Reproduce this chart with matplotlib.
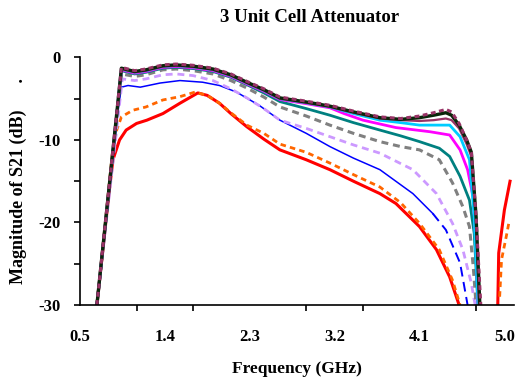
import numpy as np
import matplotlib
matplotlib.use("Agg")
import matplotlib.pyplot as plt

plt.rcParams['font.family'] = 'Liberation Serif'
plt.rcParams['font.weight'] = 'bold'
plt.rcParams['lines.scale_dashes'] = False

# frequencia (GHz) y |S21| (dB)
f_black = [0.68, 0.94, 1.08, 1.2, 1.38, 1.52, 1.7, 1.91, 2.1, 2.27, 2.45, 2.62, 2.9, 3.15, 3.4, 3.68, 3.9, 4.1, 4.25, 4.38, 4.44, 4.52, 4.6, 4.65, 4.7, 4.74]
s_black = [-30, -1.3, -1.7, -1.5, -1.0, -0.9, -1.05, -1.4, -2.1, -3.0, -3.9, -4.9, -5.4, -5.9, -6.6, -7.3, -7.5, -7.3, -7.0, -6.7, -7.0, -8.2, -10, -11.5, -19.3, -30]

f_purple = [0.68, 0.94, 1.08, 1.2, 1.38, 1.52, 1.7, 1.91, 2.1, 2.27, 2.45, 2.62, 2.9, 3.15, 3.4, 3.68, 3.9, 4.1, 4.25, 4.38, 4.44, 4.52, 4.6, 4.65, 4.7, 4.75]
s_purple = [-30, -1.2, -1.6, -1.4, -0.9, -0.8, -0.95, -1.3, -2.0, -2.9, -3.8, -4.8, -5.3, -5.8, -6.5, -7.2, -7.4, -7.1, -6.7, -6.3, -6.6, -8.0, -10, -11.5, -19.3, -30]

f_maroon = [0.68, 0.94, 1.08, 1.2, 1.38, 1.52, 1.7, 1.91, 2.1, 2.27, 2.45, 2.62, 2.9, 3.15, 3.4, 3.68, 3.9, 4.1, 4.25, 4.38, 4.44, 4.52, 4.6, 4.65, 4.7, 4.73]
s_maroon = [-30, -1.4, -1.8, -1.6, -1.1, -1.0, -1.15, -1.5, -2.2, -3.1, -4.0, -5.0, -5.5, -6.0, -6.7, -7.4, -7.6, -7.7, -7.6, -7.4, -7.6, -8.6, -10.5, -12, -19.5, -30]

f_cyan = [0.68, 0.94, 1.08, 1.2, 1.38, 1.52, 1.7, 1.91, 2.1, 2.27, 2.45, 2.62, 2.9, 3.15, 3.4, 3.68, 3.9, 4.1, 4.25, 4.42, 4.53, 4.63, 4.68, 4.72]
s_cyan = [-30, -1.4, -1.8, -1.6, -1.1, -1.0, -1.15, -1.5, -2.2, -3.1, -4.0, -5.0, -5.5, -6.0, -6.8, -7.6, -7.9, -8.2, -8.2, -8.2, -9.6, -12.4, -19.3, -30]

f_magenta = [0.68, 0.94, 1.08, 1.2, 1.38, 1.52, 1.7, 1.91, 2.1, 2.27, 2.45, 2.62, 2.9, 3.15, 3.3, 3.5, 3.85, 4.21, 4.42, 4.53, 4.61, 4.67, 4.7, 4.72]
s_magenta = [-30, -1.5, -1.9, -1.7, -1.2, -1.1, -1.25, -1.6, -2.3, -3.2, -4.1, -5.1, -5.6, -6.1, -6.8, -7.6, -8.5, -9.0, -9.4, -11.2, -13.6, -17, -23, -30]

f_teal = [0.68, 0.94, 1.08, 1.2, 1.38, 1.52, 1.7, 1.91, 2.1, 2.27, 2.45, 2.62, 2.9, 3.15, 3.4, 3.68, 3.9, 4.1, 4.31, 4.42, 4.53, 4.63, 4.68, 4.72]
s_teal = [-30, -1.6, -2.0, -1.8, -1.3, -1.2, -1.35, -1.7, -2.4, -3.3, -4.3, -5.35, -6.2, -7.0, -7.9, -8.8, -9.5, -10.2, -11.0, -12.0, -14.4, -17.3, -21.3, -30]

f_gray = [0.68, 0.94, 1.08, 1.2, 1.38, 1.52, 1.7, 1.91, 2.1, 2.27, 2.45, 2.62, 2.9, 3.15, 3.4, 3.68, 3.9, 4.1, 4.31, 4.45, 4.56, 4.63, 4.67, 4.7]
s_gray = [-30, -2.0, -2.3, -2.1, -1.5, -1.4, -1.6, -2.0, -2.8, -3.7, -4.8, -6.0, -7.1, -8.2, -9.2, -10.2, -10.8, -11.2, -12.4, -15.2, -18.1, -20.5, -25.4, -30]

f_lav = [0.68, 0.95, 1.08, 1.2, 1.38, 1.52, 1.7, 1.91, 2.1, 2.27, 2.45, 2.62, 2.9, 3.15, 3.4, 3.68, 4.03, 4.28, 4.45, 4.56, 4.65, 4.69]
s_lav = [-30, -2.6, -2.8, -2.6, -2.1, -2.0, -2.2, -2.8, -3.8, -4.9, -6.2, -7.6, -8.6, -9.6, -10.6, -11.6, -13.6, -16.5, -20.1, -23.3, -27.4, -30]

f_blue = [0.68, 0.91, 0.94, 1.01, 1.14, 1.35, 1.56, 1.8, 1.98, 2.16, 2.4, 2.62, 2.9, 3.15, 3.4, 3.68, 4.03, 4.24]
s_blue = [-30, -6, -3.6, -3.4, -3.6, -3.1, -2.8, -3.0, -3.4, -4.2, -5.8, -7.6, -9.2, -10.8, -12.2, -13.6, -16.5, -18.9]
f_blue_tail = [4.24, 4.38, 4.53, 4.61]
s_blue_tail = [-18.9, -20.9, -24.9, -30]

f_orange = [0.68, 0.84, 0.89, 0.94, 1.06, 1.2, 1.38, 1.56, 1.72, 1.85, 1.98, 2.1, 2.27, 2.45, 2.62, 2.9, 3.15, 3.4, 3.68, 3.9, 4.1, 4.31, 4.45, 4.53]
s_orange = [-30, -12, -8.8, -7.2, -6.4, -6.0, -5.15, -4.75, -4.2, -4.6, -5.55, -6.7, -8.2, -9.2, -10.5, -11.5, -12.8, -14.2, -15.7, -17.6, -20.1, -23.3, -27, -30]
f_orange2 = [4.95, 4.97, 5.02, 5.05]
s_orange2 = [-29, -24.5, -21.7, -19.9]

f_red = [0.68, 0.8, 0.85, 0.92, 0.99, 1.1, 1.21, 1.38, 1.56, 1.75, 1.85, 1.98, 2.1, 2.27, 2.45, 2.62, 2.9, 3.15, 3.4, 3.68, 3.85, 4.1, 4.28, 4.42, 4.52]
s_red = [-30, -17.3, -12.4, -10, -8.8, -8.0, -7.6, -6.8, -5.55, -4.3, -4.6, -5.55, -6.8, -8.4, -9.9, -11.2, -12.4, -13.6, -15.0, -16.5, -17.7, -20.5, -23.3, -26.6, -30]
f_red2 = [4.93, 4.94, 5.0, 5.06]
s_red2 = [-30, -23.7, -18.5, -15.0]

xticklabels = ['0.5', '1.4', '2.3', '3.2', '4.1', '5.0']

fig = plt.figure(figsize=(5.19, 3.82), dpi=100)
ax = fig.add_axes([0.154, 0.2016, 0.836, 0.648])

ax.plot(f_red, s_red, color='#FF0000', lw=2.2)
ax.plot(f_red2, s_red2, color='#FF0000', lw=2.2)
ax.plot(f_orange, s_orange, color='#FF6600', lw=2.0, dashes=(4, 3))
ax.plot(f_orange2, s_orange2, color='#FF6600', lw=2.0, dashes=(4, 3))
ax.plot(f_blue, s_blue, color='#0000FF', lw=1.1)
ax.plot(f_blue_tail, s_blue_tail, color='#0000FF', lw=1.4, dashes=(7, 4))
ax.plot(f_lav, s_lav, color='#CC99FF', lw=2.0, dashes=(5, 3.5))
ax.plot(f_gray, s_gray, color='#808080', lw=2.2, dashes=(5, 3.5))
ax.plot(f_teal, s_teal, color='#008080', lw=2.0)
ax.plot(f_magenta, s_magenta, color='#FF00FF', lw=2.0)
ax.plot(f_cyan, s_cyan, color='#00CCFF', lw=2.0)
ax.plot(f_maroon, s_maroon, color='#993366', lw=1.6)
ax.plot(f_black, s_black, color='#0A260A', lw=2.4)
ax.plot(f_purple, s_purple, color='#993366', lw=2.2, dashes=(3.5, 2.5))

ax.set_xlim(0.5, 5.1)
ax.set_ylim(-30, 0)
ax.spines['top'].set_visible(False)
ax.spines['right'].set_visible(False)
ax.spines['left'].set_linewidth(1.2)
ax.spines['bottom'].set_linewidth(1.2)

ax.set_xticks([0.5 + 0.9 * i for i in range(6)])
ax.set_xticklabels(xticklabels, fontsize=12, fontweight='bold')
ax.set_xticks([0.5 + 0.6 * i for i in range(8)], minor=True)
ax.tick_params(axis='x', which='major', length=0, pad=17)
ax.tick_params(axis='x', which='minor', length=4.5, width=1.2, direction='out')

ax.set_yticks([0, -10, -20, -30])
ax.set_yticklabels(['0', '-10', '-20', '-30'], fontsize=12, fontweight='bold')
ax.set_yticks([-5, -15, -25], minor=True)
ax.tick_params(axis='y', which='both', length=4.5, width=1.2, direction='out', pad=9.5)

ax.set_xlabel('Frequency (GHz)', fontsize=12.5, fontweight='bold', labelpad=12)
ax.set_ylabel('Magnitude of S21 (dB)      .', fontsize=13, fontweight='bold', labelpad=8)
fig.text(0.596, 0.955, '3 Unit Cell Attenuator', fontsize=13.5, fontweight='bold',
         ha='center', va='center')

fig.savefig('out.png', dpi=100)
